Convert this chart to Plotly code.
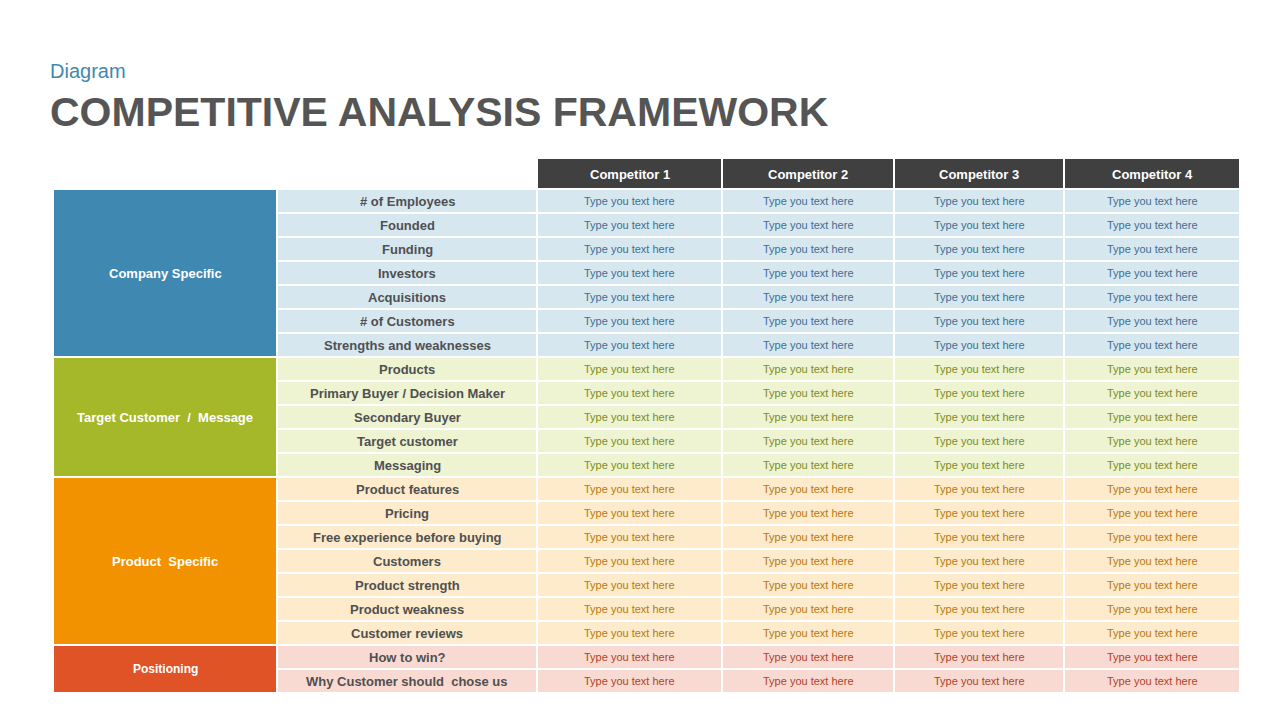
import plotly.graph_objects as go

competitors = ["Competitor 1", "Competitor 2", "Competitor 3", "Competitor 4"]
groups = ["Company Specific", "Target Customer  /  Message", "Product  Specific", "Positioning"]
group_rows = [
    ["# of Employees", "Founded", "Funding", "Investors", "Acquisitions", "# of Customers", "Strengths and weaknesses"],
    ["Products", "Primary Buyer / Decision Maker", "Secondary Buyer", "Target customer", "Messaging"],
    ["Product features", "Pricing", "Free experience before buying", "Customers", "Product strength", "Product weakness", "Customer reviews"],
    ["How to win?", "Why Customer should  chose us"],
]
cell_text = "Type you text here"
group_colors = ["#3F88B2", "#A5B82A", "#F39200", "#E05326"]
light_colors = ["#D6E7F0", "#EEF3D2", "#FDEBCB", "#F8DAD3"]
cell_text_colors = ["#3E6E90", "#7C8C1C", "#B8770E", "#B0421F"]

# layout geometry (pixel-like data coordinates)
col_edges = [(46, 268), (270, 528), (530, 713), (715, 885), (887, 1055), (1057, 1231)]
row_top0, row_h, row_gap = 182, 24, 2
header = (151, 180)
FONT = "Liberation Sans Narrow, Arial Narrow, Arial, sans-serif"

shapes, ann = [], []
def rect(x0, x1, y0, y1, color):
    shapes.append(dict(type="rect", xref="x", yref="y", x0=x0, x1=x1, y0=y0, y1=y1,
                       fillcolor=color, line=dict(width=0), layer="below"))
def text(x, y, s, size, color, bold=False, xanchor="center"):
    ann.append(dict(x=x, y=y, xref="x", yref="y", text=f"<b>{s}</b>" if bold else s,
                    showarrow=False, xanchor=xanchor, yanchor="middle",
                    font=dict(family=FONT, size=size, color=color)))

for j, c in enumerate(competitors):
    x0, x1 = col_edges[j + 2]
    rect(x0, x1, header[0], header[1], "#404040")
    text((x0 + x1) / 2, (header[0] + header[1]) / 2 + 1, c, 13, "white", True)

r = 0
for g, rows in enumerate(group_rows):
    gy0 = row_top0 + r * row_h
    gy1 = gy0 + len(rows) * row_h - row_gap
    gx0, gx1 = col_edges[0]
    rect(gx0, gx1, gy0, gy1, group_colors[g])
    text((gx0 + gx1) / 2, (gy0 + gy1) / 2, groups[g], 13 if g < 3 else 12, "white", True)
    for lab in rows:
        y0 = row_top0 + r * row_h
        y1 = y0 + row_h - row_gap
        ym = (y0 + y1) / 2
        for k in range(1, 6):
            x0, x1 = col_edges[k]
            rect(x0, x1, y0, y1, light_colors[g])
            if k == 1:
                text((x0 + x1) / 2, ym, lab, 13, "#505050", True)
            else:
                text((x0 + x1) / 2, ym, cell_text, 11, cell_text_colors[g])
        r += 1

text(40, 63, "Diagram", 20, "#3F88B2", xanchor="left")
ann.append(dict(x=40, y=104, xref="x", yref="y", text="<b>COMPETITIVE ANALYSIS FRAMEWORK</b>",
                showarrow=False, xanchor="left", yanchor="middle",
                font=dict(family="Liberation Sans, Arial, sans-serif", size=41, color="#555555")))

fig = go.Figure(go.Scatter(x=[0, 1280], y=[0, 720], mode="markers", marker=dict(opacity=0),
                           hoverinfo="skip", showlegend=False))
fig.update_layout(width=1280, height=720, margin=dict(l=0, r=0, t=0, b=0),
                  paper_bgcolor="white", plot_bgcolor="white",
                  xaxis=dict(range=[0, 1280], visible=False, fixedrange=True),
                  yaxis=dict(range=[720, 0], visible=False, fixedrange=True),
                  shapes=shapes, annotations=ann)
fig.write_html("out.html")
